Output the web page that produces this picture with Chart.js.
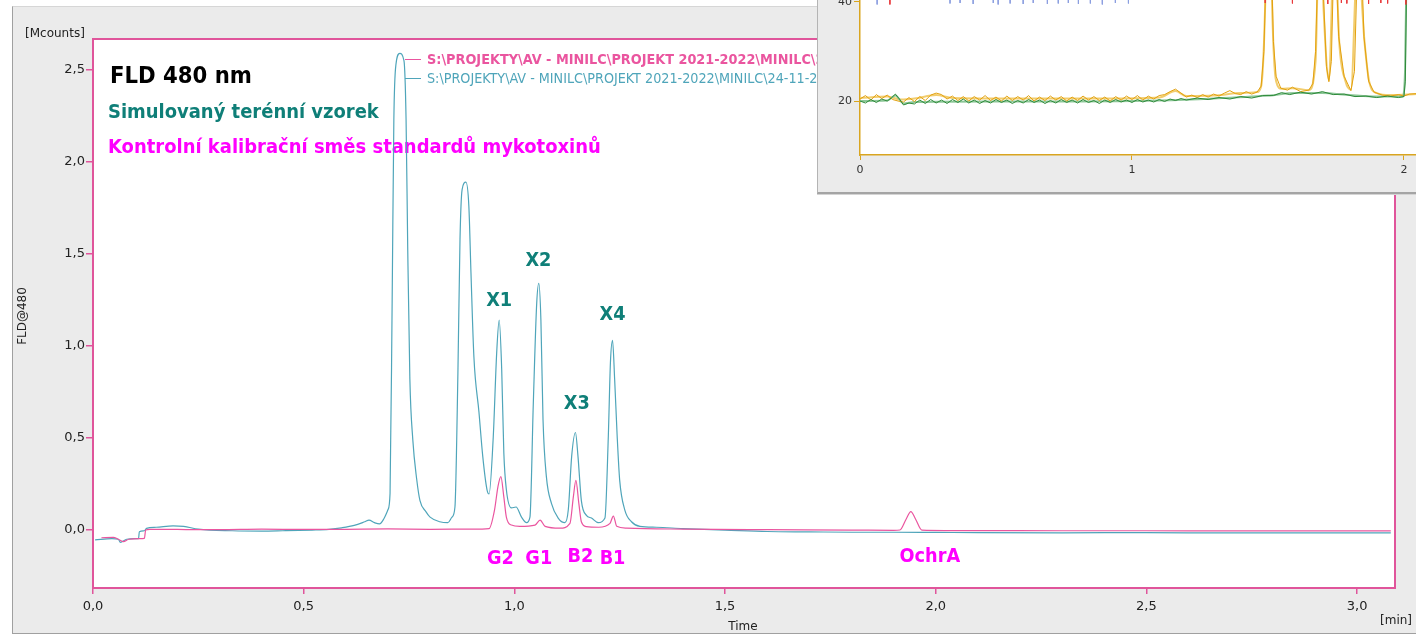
<!DOCTYPE html>
<html><head><meta charset="utf-8">
<script src="https://cdn.jsdelivr.net/npm/chart.js@4/dist/chart.umd.min.js"></script>
<style>
html,body{margin:0;padding:0;background:#fff;width:1416px;height:636px;overflow:hidden;}
#panel{position:absolute;left:12px;top:6px;width:1404px;height:626px;background:#ebebeb;border-left:1px solid #a0a0a0;border-top:1px solid #d6d6d6;border-bottom:1px solid #a0a0a0;}
#main{position:absolute;left:0;top:0;}
#insetBox{position:absolute;left:817px;top:0;width:599px;height:192px;background:#ebebeb;border-left:1px solid #b4b4b4;border-bottom:2px solid #a4a4a4;box-shadow:0 1px 0 #d4d4d4;}
#inset{position:absolute;left:0;top:0;}
</style></head><body>
<div id="panel"></div>
<canvas id="main" width="1416" height="636"></canvas>
<div id="insetBox"><canvas id="inset" width="599" height="192"></canvas></div>
<script>
// ---------- MAIN CHART DATA (time [min], signal [Mcounts]) ----------
const tealT = [0.005,0.045,0.060,0.065,0.080,0.100,0.108,0.110,0.122,0.127,0.150,0.190,0.215,0.250,0.330,0.400,0.450,0.520,0.560,0.590,0.620,0.645,0.655,0.668,0.680,0.690,0.700,0.705,0.710,0.714,0.719,0.728,0.738,0.743,0.747,0.752,0.759,0.768,0.776,0.790,0.800,0.823,0.842,0.852,0.859,0.866,0.871,0.876,0.885,0.892,0.897,0.904,0.916,0.925,0.935,0.940,0.950,0.958,0.964,0.970,0.975,0.981,0.993,1.004,1.017,1.029,1.037,1.045,1.053,1.058,1.063,1.068,1.076,1.088,1.104,1.120,1.128,1.136,1.145,1.151,1.159,1.171,1.183,1.199,1.215,1.223,1.228,1.233,1.238,1.244,1.250,1.262,1.278,1.298,1.337,1.40,1.50,1.60,1.70,1.80,1.90,2.00,2.10,2.30,2.50,2.70,2.90,3.08];
const tealV = [-0.054,-0.047,-0.050,-0.067,-0.050,-0.047,-0.047,-0.009,-0.004,0.009,0.015,0.023,0.020,0.005,-0.004,-0.006,-0.004,0.000,0.004,0.012,0.025,0.045,0.054,0.040,0.033,0.060,0.11,0.20,1.25,2.23,2.53,2.59,2.55,2.23,1.52,0.82,0.49,0.28,0.16,0.10,0.07,0.045,0.04,0.07,0.125,0.85,1.58,1.85,1.89,1.76,1.40,0.94,0.64,0.40,0.22,0.196,0.51,0.96,1.14,0.87,0.42,0.22,0.12,0.125,0.07,0.04,0.07,0.69,1.23,1.34,1.14,0.60,0.29,0.145,0.065,0.04,0.11,0.40,0.53,0.40,0.16,0.08,0.065,0.04,0.065,0.51,0.91,1.03,0.82,0.51,0.27,0.11,0.045,0.02,0.015,0.008,0.000,-0.008,-0.010,-0.012,-0.012,-0.013,-0.014,-0.015,-0.014,-0.016,-0.016,-0.016];
const pinkT = [0.020,0.048,0.060,0.072,0.085,0.110,0.122,0.125,0.135,0.20,0.30,0.40,0.50,0.60,0.70,0.80,0.90,0.940,0.953,0.961,0.968,0.975,0.981,0.993,1.013,1.049,1.061,1.073,1.108,1.132,1.140,1.146,1.153,1.159,1.171,1.200,1.227,1.235,1.243,1.266,1.40,1.60,1.80,1.90,1.915,1.930,1.941,1.952,1.967,2.10,2.30,2.50,2.70,2.90,3.08];
const pinkV = [-0.042,-0.040,-0.050,-0.063,-0.050,-0.047,-0.045,0.000,0.004,0.003,0.002,0.005,0.003,0.004,0.006,0.004,0.005,0.008,0.11,0.235,0.29,0.18,0.07,0.027,0.02,0.027,0.054,0.02,0.01,0.036,0.18,0.27,0.145,0.045,0.018,0.015,0.036,0.076,0.02,0.01,0.005,0.002,0.000,-0.002,0.000,0.06,0.10,0.06,0.000,-0.003,-0.004,-0.004,-0.005,-0.005,-0.005];
const xTicks = [0, 0.5, 1.0, 1.5, 2.0, 2.5, 3.0];
const yTicks = [0, 0.5, 1.0, 1.5, 2.0, 2.5];
const legendPink = "S:\\PROJEKTY\\AV - MINILC\\PROJEKT 2021-2022\\MINILC\\24-11-2021\\KALIBRACE-MIX.dx";
const legendTeal = "S:\\PROJEKTY\\AV - MINILC\\PROJEKT 2021-2022\\MINILC\\24-11-2021\\VZOREK-SIM.dx";
const peakLabels = ["X1","X2","X3","X4"];
const peakLabelT = [0.964,1.057,1.148,1.233];
const peakLabelV = [1.217,1.435,0.658,1.141];
const stdLabels = ["G2","G1","B2","B1","OchrA"];
const stdLabelT = [0.967,1.058,1.157,1.233,1.986];
const stdLabelV = [-0.185,-0.185,-0.174,-0.185,-0.174];

// ---------- INSET DATA ----------
const orT = [0.00,0.02,0.04,0.06,0.08,0.10,0.12,0.14,0.16,0.18,0.20,0.22,0.24,0.26,0.28,0.30,0.32,0.34,0.36,0.38,0.40,0.42,0.44,0.46,0.48,0.50,0.52,0.54,0.56,0.58,0.60,0.62,0.64,0.66,0.68,0.70,0.72,0.74,0.76,0.78,0.80,0.82,0.84,0.86,0.88,0.90,0.92,0.94,0.96,0.98,1.00,1.02,1.04,1.06,1.08,1.10,1.12,1.14,1.16,1.18,1.20,1.22,1.24,1.26,1.28,1.30,1.32,1.34,1.36,1.38,1.40,1.42,1.44,1.46,1.475,1.485,1.495,1.503,1.512,1.52,1.53,1.547,1.572,1.59,1.62,1.65,1.665,1.675,1.69,1.705,1.715,1.724,1.733,1.745,1.76,1.78,1.805,1.818,1.83,1.84,1.853,1.87,1.89,1.92,1.95,1.98,2.00,2.02,2.048];
const orV = [20.4,21.1,20.2,21.3,20.5,21.2,20.3,20.0,19.8,20.7,19.9,20.9,20.1,21.2,21.6,21.3,20.4,21.0,20.1,20.9,20.0,20.9,20.2,21.1,20.1,20.8,20.0,21.0,20.1,20.9,20.2,21.1,20.0,20.8,20.1,21.0,20.2,20.9,20.0,20.8,20.1,21.0,20.2,20.9,20.1,20.8,20.0,20.9,20.2,21.0,20.3,21.1,20.2,21.0,20.4,21.1,21.3,21.9,22.4,21.6,20.8,21.2,20.7,21.3,20.8,21.4,21.0,21.6,22.1,21.5,21.3,21.9,21.4,21.8,23.0,30,50,80,50,32,25,22.6,22.2,22.8,21.9,22.2,23.5,30,60,40,27,23.9,28,55,33,25,22.1,26,50,55,33,24,21.8,21.2,21.0,21.3,21.0,21.4,21.5];
const orLightT = [0,0.10,0.15,0.20,0.28,0.34,0.50,0.70,0.90,1.10,1.16,1.20,1.30,1.40,1.46,1.475,1.49,1.503,1.515,1.53,1.55,1.59,1.65,1.675,1.69,1.705,1.724,1.745,1.762,1.785,1.805,1.83,1.855,1.872,1.90,1.95,2.048];
const orLightV = [20.6,20.9,20.3,20.5,21.2,20.6,20.5,20.5,20.5,20.7,22.0,21.0,21.1,21.6,21.8,23,40,80,40,24,22.5,22.6,22.2,28,60,38,24.2,55,32,24,22.3,50,32,24,21.6,21.2,21.4];
const grT = [0.00,0.02,0.04,0.06,0.08,0.10,0.115,0.13,0.145,0.16,0.18,0.20,0.22,0.24,0.26,0.28,0.30,0.32,0.34,0.36,0.38,0.40,0.42,0.44,0.46,0.48,0.50,0.52,0.54,0.56,0.58,0.60,0.62,0.64,0.66,0.68,0.70,0.72,0.74,0.76,0.78,0.80,0.82,0.84,0.86,0.88,0.90,0.92,0.94,0.96,0.98,1.00,1.02,1.04,1.06,1.08,1.10,1.12,1.14,1.16,1.18,1.20,1.24,1.28,1.32,1.36,1.40,1.44,1.48,1.52,1.55,1.58,1.62,1.66,1.70,1.74,1.78,1.82,1.86,1.90,1.94,1.98,2.00,2.005,2.01];
const grV = [20.0,19.6,20.3,19.7,20.4,20.0,20.6,21.4,20.4,19.2,19.6,19.4,20.2,19.5,20.3,19.6,20.2,19.5,20.3,19.7,20.4,19.6,20.2,19.5,20.1,19.6,20.3,19.7,20.2,19.5,20.1,19.6,20.3,19.7,20.2,19.5,20.1,19.6,20.3,19.7,20.2,19.6,20.3,19.7,20.1,19.5,20.2,19.7,20.3,19.8,20.2,19.7,20.3,19.8,20.2,19.8,20.3,19.9,20.4,20.1,20.5,20.2,20.6,20.3,20.7,20.4,20.9,20.6,21.1,21.1,21.7,21.3,21.8,21.4,21.9,21.3,21.4,20.9,21.0,20.7,21.0,20.7,20.9,24,45];
const grLightT = [0,0.10,0.13,0.16,0.20,0.50,0.80,1.10,1.30,1.50,1.60,1.70,1.80,1.90,1.995,2.004,2.009];
const grLightV = [20.0,20.1,21.1,19.5,19.8,19.9,19.9,20.1,20.5,21.1,21.6,21.6,21.2,20.9,20.9,26,45];
const blueT = [0.063,0.331,0.368,0.416,0.490,0.508,0.552,0.600,0.637,0.689,0.729,0.766,0.803,0.847,0.891,0.939,0.987];
const blueV = [39.5,39.7,39.8,39.6,39.8,39.5,39.7,39.6,39.8,39.6,39.7,39.8,39.6,39.7,39.5,39.8,39.7];
const redT = [0.110,1.49,1.59,1.72,1.77,1.79,1.87,1.915,1.94,2.007];
const redV = [39.5,39.8,39.7,39.6,39.8,39.7,39.6,39.8,39.7,39.5];
const insetXTicks = [0,1,2];
const insetYTicks = [20,40];

// ---------- helpers ----------
const FONT = '"DejaVu Sans", sans-serif';
const FONTC = '"DejaVu Sans Condensed", "DejaVu Sans", sans-serif';
const pts = (T, V) => T.map((t, i) => ({x: t, y: V[i]}));
const spikes = (T, V, top) => T.flatMap((t, i) => [{x: t, y: top}, {x: t, y: V[i]}, {x: t, y: null}]);
const fmt = v => v.toFixed(1).replace('.', ',');
function fitText(ctx, text, weight, family, width) {
  ctx.font = `${weight} 100px ${family}`;
  return 100 * width / ctx.measureText(text).width;
}

const PINK = '#ea559f', TEAL = '#4fa5ba', BORDER = '#e0559b';
const DARKTEAL = '#0f7f78', MAGENTA = '#ff00ff';

const mainDeco = {
  id: 'mainDeco',
  beforeDraw(c) {
    const {ctx, chartArea: a} = c;
    ctx.save();
    ctx.fillStyle = '#fff';
    ctx.fillRect(a.left, a.top, a.right - a.left, a.bottom - a.top);
    ctx.restore();
  },
  beforeDatasetsDraw(c) {
    const {ctx} = c;
    const xs = c.scales.x, ys = c.scales.y;
    ctx.save();
    ctx.textBaseline = 'alphabetic';
    ctx.textAlign = 'left';
    let s = fitText(ctx, 'FLD 480 nm', 'bold', FONTC, 142);
    ctx.font = `bold ${s}px ${FONTC}`; ctx.fillStyle = '#000';
    ctx.fillText('FLD 480 nm', 110, 83);
    const t2 = 'Simulovaný terénní vzorek';
    s = fitText(ctx, t2, 'bold', FONTC, 271);
    ctx.font = `bold ${s}px ${FONTC}`; ctx.fillStyle = DARKTEAL;
    ctx.fillText(t2, 108, 118);
    const t3 = 'Kontrolní kalibrační směs standardů mykotoxinů';
    s = fitText(ctx, t3, 'bold', FONTC, 493);
    ctx.font = `bold ${s}px ${FONTC}`; ctx.fillStyle = MAGENTA;
    ctx.fillText(t3, 108, 153);
    // peak labels
    const ps = fitText(ctx, 'X1', 'bold', FONTC, 26);
    ctx.font = `bold ${ps}px ${FONTC}`;
    ctx.textAlign = 'center';
    ctx.fillStyle = DARKTEAL;
    peakLabels.forEach((l, i) => ctx.fillText(l, xs.getPixelForValue(peakLabelT[i]), ys.getPixelForValue(peakLabelV[i])));
    ctx.fillStyle = MAGENTA;
    stdLabels.forEach((l, i) => ctx.fillText(l, xs.getPixelForValue(stdLabelT[i]), ys.getPixelForValue(stdLabelV[i])));
    // legend
    ctx.lineWidth = 1;
    ctx.strokeStyle = PINK;
    ctx.beginPath(); ctx.moveTo(405, 59.5); ctx.lineTo(421, 59.5); ctx.stroke();
    ctx.strokeStyle = TEAL;
    ctx.beginPath(); ctx.moveTo(405, 78.5); ctx.lineTo(421, 78.5); ctx.stroke();
    ctx.textAlign = 'left';
    const lp = fitText(ctx, 'S:\\PROJEKTY\\AV - MINILC\\PROJEKT 2021-2022\\MINILC\\', 'bold', FONTC, 389);
    ctx.font = `bold ${lp}px ${FONTC}`; ctx.fillStyle = PINK;
    ctx.fillText(legendPink, 427, 64);
    const lt = fitText(ctx, 'S:\\PROJEKTY\\AV - MINILC\\PROJEKT 2021-2022\\MINILC\\24-11-2', 'normal', FONTC, 391);
    ctx.font = `${lt}px ${FONTC}`; ctx.fillStyle = TEAL;
    ctx.fillText(legendTeal, 427, 83);
    ctx.restore();
  },
  afterDraw(c) {
    const {ctx, chartArea: a} = c;
    ctx.save();
    ctx.strokeStyle = BORDER; ctx.lineWidth = 2;
    ctx.strokeRect(a.left, a.top, a.right - a.left, a.bottom - a.top);
    ctx.fillStyle = '#222';
    ctx.font = `12px ${FONT}`;
    ctx.textAlign = 'left'; ctx.textBaseline = 'middle';
    ctx.fillText('[Mcounts]', 25, 34);
    ctx.textAlign = 'center';
    ctx.fillText('Time', 743, 627);
    ctx.fillText('[min]', 1396, 621);
    ctx.translate(23, 316); ctx.rotate(-Math.PI / 2);
    ctx.fillText('FLD@480', 0, 0);
    ctx.restore();
  }
};

new Chart(document.getElementById('main'), {
  type: 'line',
  data: {datasets: [
    {label: legendPink, data: pts(pinkT, pinkV), borderColor: PINK, borderWidth: 1.2, pointRadius: 0, cubicInterpolationMode: 'monotone'},
    {label: legendTeal, data: pts(tealT, tealV), borderColor: TEAL, borderWidth: 1.2, pointRadius: 0, cubicInterpolationMode: 'monotone'}
  ]},
  options: {
    responsive: false, animation: false, devicePixelRatio: 1,
    layout: {padding: {left: 0, top: 39, right: 21, bottom: 0}},
    plugins: {legend: {display: false}, tooltip: {enabled: false}},
    scales: {
      x: {type: 'linear', min: 0, max: 3.09,
        afterFit(s) { s.height = 48; s.paddingLeft = 0; s.paddingRight = 0; },
        afterBuildTicks(s) { s.ticks = xTicks.map(v => ({value: v})); },
        ticks: {callback: v => fmt(v), font: {family: FONT, size: 13}, color: '#222', maxRotation: 0, padding: 5},
        grid: {drawOnChartArea: false, drawTicks: true, tickLength: 6, color: BORDER, lineWidth: 1.5},
        border: {display: true, color: BORDER, width: 2}},
      y: {type: 'linear', min: -0.315, max: 2.668,
        afterFit(s) { s.width = 93; s.paddingTop = 0; s.paddingBottom = 0; },
        afterBuildTicks(s) { s.ticks = yTicks.map(v => ({value: v})); },
        ticks: {callback: v => fmt(v), font: {family: FONT, size: 13}, color: '#222', padding: 1},
        grid: {drawOnChartArea: false, drawTicks: true, tickLength: 7, color: BORDER, lineWidth: 1.5},
        border: {display: true, color: BORDER, width: 2}}
    }
  },
  plugins: [mainDeco]
});

// ---------- INSET ----------
const OR = '#e3a10e', ORL = '#f2cd6e', GR = '#2e8a3a', GRL = '#8dc798';
new Chart(document.getElementById('inset'), {
  type: 'line',
  data: {datasets: [
    {data: spikes(blueT, blueV, 41.5), borderColor: '#8c9fe0', borderWidth: 1, pointRadius: 0, spanGaps: false},
    {data: spikes(redT, redV, 41.5), borderColor: '#e83a3c', borderWidth: 1, pointRadius: 0, spanGaps: false},
    {data: pts(grT, grV), borderColor: GR, borderWidth: 1, pointRadius: 0},
    {data: pts(orT, orV), borderColor: OR, borderWidth: 1, pointRadius: 0},
    {data: pts(grLightT, grLightV), borderColor: GRL, borderWidth: 2, pointRadius: 0, cubicInterpolationMode: 'monotone'},
    {data: pts(orLightT, orLightV), borderColor: ORL, borderWidth: 2, pointRadius: 0, cubicInterpolationMode: 'monotone'}
  ]},
  options: {
    responsive: false, animation: false, devicePixelRatio: 1,
    layout: {padding: 0},
    plugins: {legend: {display: false}, tooltip: {enabled: false}},
    scales: {
      x: {type: 'linear', min: 0, max: 2.048,
        afterFit(s) { s.height = 37; s.paddingLeft = 0; s.paddingRight = 0; },
        afterBuildTicks(s) { s.ticks = insetXTicks.map(v => ({value: v})); },
        ticks: {callback: v => String(v), font: {family: FONT, size: 11}, color: '#333', maxRotation: 0, padding: 4},
        grid: {drawOnChartArea: false, drawTicks: true, tickLength: 5, color: '#d9a520'},
        border: {display: true, color: '#d9a520', width: 1.5}},
      y: {type: 'linear', min: 9.1, max: 40.4,
        afterFit(s) { s.width = 42; s.paddingTop = 0; s.paddingBottom = 0; },
        afterBuildTicks(s) { s.ticks = insetYTicks.map(v => ({value: v})); },
        ticks: {callback: v => String(v), font: {family: FONT, size: 11}, color: '#333', padding: 2},
        grid: {drawOnChartArea: false, drawTicks: true, tickLength: 6, color: '#d9a520'},
        border: {display: true, color: '#d9a520', width: 1.5}}
    }
  },
  plugins: [{id: 'bg', beforeDraw(c) { const {ctx, chartArea: a} = c; ctx.save(); ctx.fillStyle = '#fff'; ctx.fillRect(a.left, a.top, a.right - a.left, a.bottom - a.top); ctx.restore(); }}]
});
</script>
</body></html>
